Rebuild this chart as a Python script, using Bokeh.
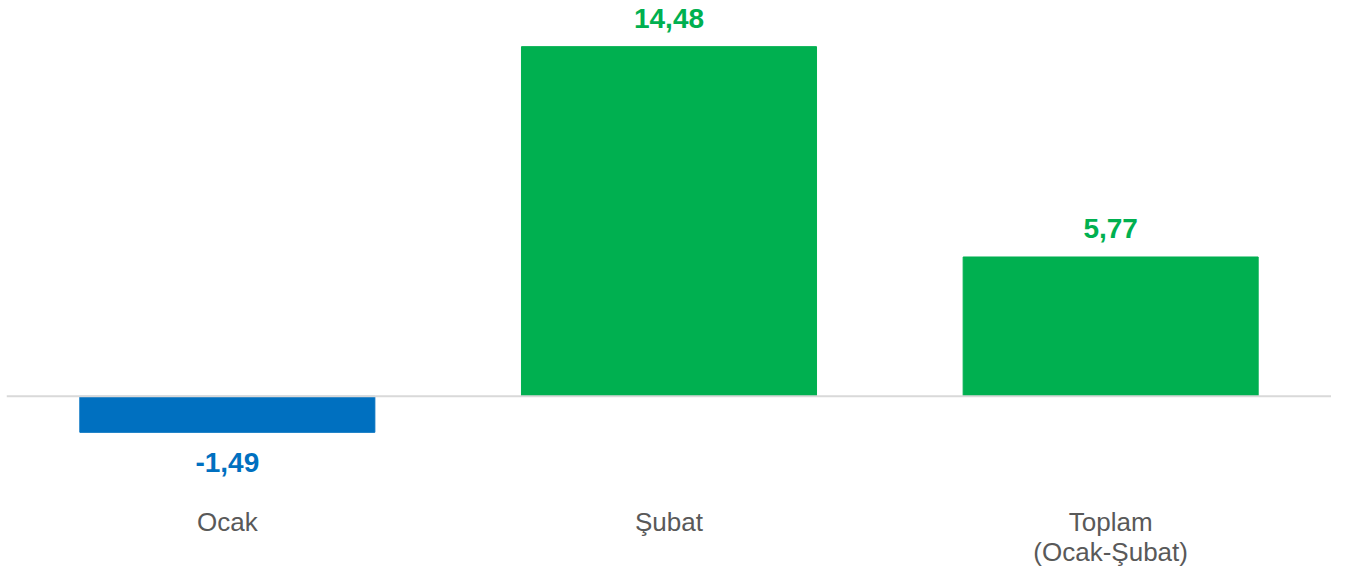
from bokeh.plotting import figure
from bokeh.models import ColumnDataSource, Span, FactorRange, Range1d
from bokeh.core.properties import value
from bokeh.embed import file_html
from bokeh.resources import INLINE

categories = ["Ocak", "Şubat", "Toplam\n(Ocak-Şubat)"]
values = [-1.49, 14.48, 5.77]
value_labels = ["-1,49", "14,48", "5,77"]

BLUE = "#0070C0"
GREEN = "#00B050"
colors = [BLUE if v < 0 else GREEN for v in values]
offsets = [30 if v < 0 else -28 for v in values]

src = ColumnDataSource(dict(cat=categories, val=values, lab=value_labels,
                            color=colors, off=offsets))

p = figure(x_range=FactorRange(*categories, range_padding=0),
           y_range=Range1d(-3.485, 16.06),
           width=1331, height=569, output_backend="svg", toolbar_location=None,
           min_border_left=6, min_border_right=0, min_border_top=8,
           min_border_bottom=40, outline_line_color=None)

p.vbar(x="cat", top="val", bottom=0, width=0.668, color="color", source=src)
p.text(x="cat", y="val", text="lab", text_color="color", y_offset="off",
       text_align="center", text_baseline="alphabetic",
       text_font=value("Liberation Sans"), text_font_style="bold",
       text_font_size="28px", source=src)

p.add_layout(Span(location=0, dimension="width", line_color="#d9d9d9", line_width=2))

p.yaxis.visible = False
p.xgrid.visible = False
p.ygrid.visible = False
ax = p.xaxis[0]
ax.axis_line_color = None
ax.major_tick_line_color = None
ax.minor_tick_line_color = None
ax.major_label_text_font = "Liberation Sans"
ax.major_label_text_font_size = "26px"
ax.major_label_text_line_height = 1.0
ax.major_label_text_color = "#595959"
ax.major_label_standoff = 20

open("out.html", "w").write(file_html(p, INLINE))
